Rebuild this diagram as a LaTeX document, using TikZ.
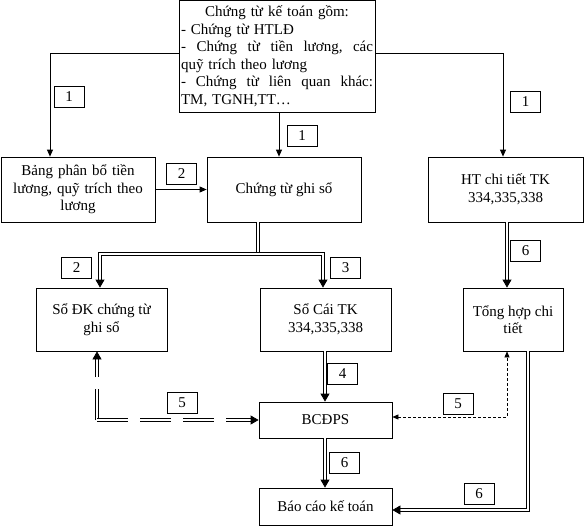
\documentclass[tikz,border=0pt]{standalone}
\usepackage{fontspec}
\setmainfont{Liberation Serif}
\usetikzlibrary{arrows.meta}
\begin{document}
\begin{tikzpicture}[x=1pt,y=-1pt,
  every node/.style={font=\fontsize{15pt}{17.6pt}\selectfont},
  bx/.style={draw, line width=0.8pt, align=center, inner sep=2pt},
  lbl/.style={draw, line width=0.6pt, minimum width=30pt, minimum height=21pt, inner sep=0pt},
  sarr/.style={line width=0.8pt, -{Triangle[width=6pt,length=7pt]}},
  darr/.style={double, double distance=1.6pt, line width=0.8pt, -{Triangle[width=9pt,length=8pt]}},
  ddash/.style={double, double distance=1.6pt, line width=0.8pt, dash pattern=on 31pt off 12pt, -{Triangle[width=9pt,length=8pt]}},
  tdash/.style={line width=0.6pt, dash pattern=on 3pt off 2pt, -{Triangle[width=5pt,length=6pt]}}
]
\useasboundingbox (0,0) rectangle (584,527);

% boxes
\node[bx, minimum width=196pt, minimum height=111.5pt, text width=192pt, align=left] (top) at (277,56.25) {%
\leavevmode\hbox to 192pt{\hfil Chứng từ kế toán gồm:\hfil}\\
- Chứng từ HTLĐ\\
\leavevmode\hbox to 192pt{-\hfill Chứng\hfill từ\hfill tiền\hfill lương,\hfill các}\\
quỹ trích theo lương\\
\leavevmode\hbox to 192pt{-\hfill Chứng\hfill từ\hfill liên\hfill quan\hfill khác:}\\
TM, TGNH,TT…};
\node[bx, minimum width=154pt, minimum height=65pt, text width=150pt] (bang) at (78,189.5) {Bảng phân bổ tiền\\lương, quỹ trích theo\\lương};
\node[bx, minimum width=154pt, minimum height=65pt] (ctgs) at (284,189.5) {Chứng từ ghi sổ};
\node[bx, minimum width=155pt, minimum height=65pt] (ht) at (505.5,189.5) {HT chi tiết TK\\334,335,338};
\node[bx, minimum width=131pt, minimum height=63pt] (sdk) at (101.5,319.5) {Sổ ĐK chứng từ\\ghi sổ};
\node[bx, minimum width=131pt, minimum height=63pt] (sc) at (325.5,319.5) {Sổ Cái TK\\334,335,338};
\node[bx, minimum width=100pt, minimum height=63pt] (th) at (513,319.5) {Tổng hợp chi\\tiết};
\node[bx, minimum width=133pt, minimum height=36pt] (bc) at (325.5,420) {BCĐPS};
\node[bx, minimum width=133pt, minimum height=37pt] (bckt) at (325.5,506.5) {Báo cáo kế toán};

% labels
\node[lbl] (l1a) at (69,97) {1};
\node[lbl] (l1b) at (302,135.5) {1};
\node[lbl] (l1c) at (525.5,101.5) {1};
\node[lbl] (l2a) at (181.5,174) {2};
\node[lbl] (l2b) at (76.5,268) {2};
\node[lbl] (l3) at (345.5,268) {3};
\node[lbl] (l6a) at (525.5,251) {6};
\node[lbl] (l4) at (342.5,373.5) {4};
\node[lbl] (l5a) at (182,402.5) {5};
\node[lbl] (l5b) at (458,403.5) {5};
\node[lbl] (l6b) at (344.5,462.5) {6};
\node[lbl] (l6c) at (479,493.5) {6};

% single arrows
\draw[sarr] ([yshift=3pt]top.west) -| ([xshift=-28pt]bang.north);
\draw[sarr] ([yshift=3pt]top.east) -| ([xshift=-2.5pt]ht.north);
\draw[sarr] ([xshift=2pt]top.south) -- ([xshift=-5pt]ctgs.north);
\draw[sarr] (bang.east) -- (ctgs.west);

% double arrows
\coordinate (split) at (258,254);
\draw[double, double distance=1.6pt, line width=0.8pt] ([xshift=-26pt]ctgs.south) -- (split);
\draw[darr, {Triangle[width=9pt,length=8pt]}-{Triangle[width=9pt,length=8pt]}] ([xshift=-1.5pt]sdk.north) |- (split) -| ([xshift=-2.5pt]sc.north);
\draw[darr] ([xshift=1.5pt]ht.south) -- ([xshift=-6pt]th.north);
\draw[darr] ([xshift=-0.5pt]sc.south) -- ([xshift=-0.5pt]bc.north);
\draw[darr] ([xshift=-0.5pt]bc.south) -- ([xshift=-0.5pt]bckt.north);
\draw[darr] ([xshift=15pt]th.south) |- ([yshift=-3.5pt]bckt.east);

% dashed double
\coordinate (corner) at (97,420);
\draw[ddash] (corner) -- ([xshift=-4.5pt]sdk.south);
\draw[ddash] (corner) -- (bc.west);

% thin dashed
\draw[tdash, {Triangle[width=5pt,length=6pt]}-{Triangle[width=5pt,length=6pt]}] ([yshift=3pt]bc.east) -| ([xshift=-6pt]th.south);
\end{tikzpicture}
\end{document}
